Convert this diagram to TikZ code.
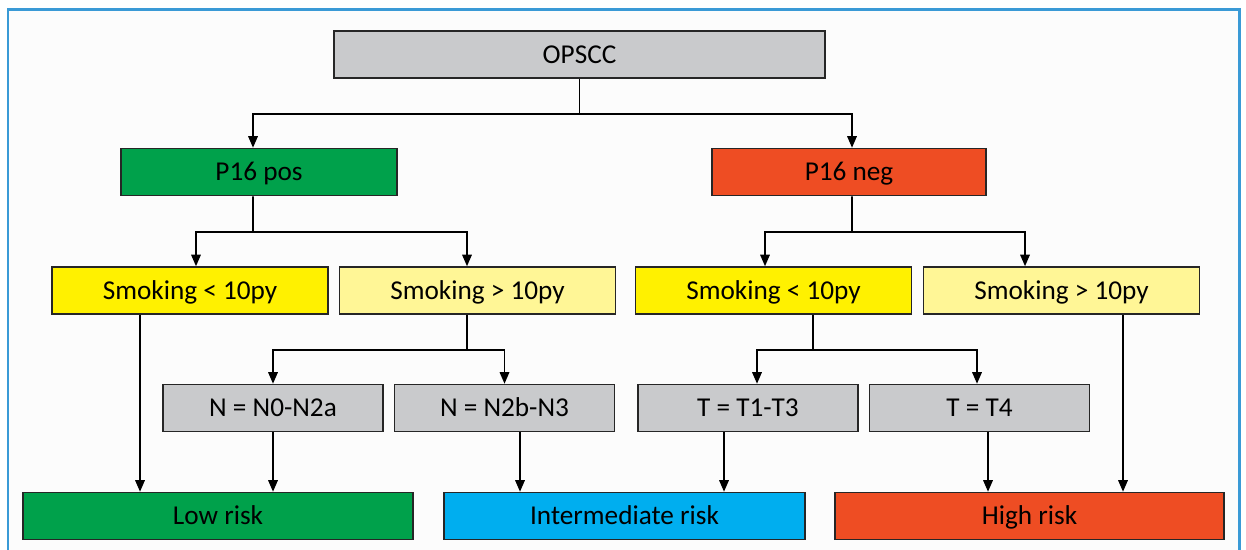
\documentclass[tikz,border=0pt]{standalone}
\usepackage{fontspec}
\setmainfont{Carlito}
\usepackage{tikz}
\usetikzlibrary{arrows.meta}

\definecolor{framblue}{RGB}{58,154,214}
\definecolor{boxgray}{RGB}{201,202,204}
\definecolor{posgreen}{RGB}{0,161,75}
\definecolor{negred}{RGB}{238,77,35}
\definecolor{smklow}{RGB}{255,241,0}
\definecolor{smkhigh}{RGB}{255,246,150}
\definecolor{midblue}{RGB}{0,174,239}

\begin{document}
\begin{tikzpicture}[x=0.02cm, y=-0.02cm, ->, >={Triangle[length=2.3mm,width=1.9mm]},
				   line width=0.9pt,
				   box/.style={draw=black!85, line width=0.9pt, minimum height=0.94cm,
				               inner sep=0pt, text height=11pt, text depth=1pt,
				               font=\fontsize{15.5}{18}\selectfont},
				   wide/.style={minimum width=5.52cm},
				   narrow/.style={minimum width=4.4cm}]
\useasboundingbox (0,0) rectangle (1246,549);
\draw[-, framblue, line width=1.7pt, fill={rgb,255:red,252;green,252;blue,252}] (8,9) rectangle (1239,600);

\node[box, fill=boxgray, minimum width=9.82cm] (opscc) at (579.5,54.5) {OPSCC};
\node[box, fill=posgreen, wide] (pos) at (259,172) {P16 pos};
\node[box, fill=negred, minimum width=5.48cm] (neg) at (849,172) {P16 neg};

\node[box, fill=smklow, wide] (sl1) at (190,290.5) {Smoking < 10py};
\node[box, fill=smkhigh, wide] (sh1) at (477.5,290.5) {Smoking > 10py};
\node[box, fill=smklow, wide] (sl2) at (773.5,290.5) {Smoking < 10py};
\node[box, fill=smkhigh, wide] (sh2) at (1061.5,290.5) {Smoking > 10py};

\node[box, fill=boxgray, narrow] (n1) at (273,408) {N = N0-N2a};
\node[box, fill=boxgray, narrow] (n2) at (504.5,408) {N = N2b-N3};
\node[box, fill=boxgray, narrow] (t1) at (748,408) {T = T1-T3};
\node[box, fill=boxgray, narrow] (t2) at (979.5,408) {T = T4};

\node[box, fill=posgreen, minimum width=7.8cm] (low) at (218,516) {Low risk};
\node[box, fill=midblue, minimum width=7.22cm] (mid) at (624.5,516) {Intermediate risk};
\node[box, fill=negred, minimum width=7.78cm] (high) at (1029.5,516) {High risk};

\coordinate (j1) at (579.5,114);
\coordinate (j2) at (253,232);
\coordinate (j3) at (852,232);
\coordinate (j4) at (467,350);
\coordinate (j5) at (813,350);

\draw[-] (opscc.south) -- (j1);
\draw (j1) -| ([xshift=-0.12cm]pos.north);
\draw (j1) -| ([xshift=0.06cm]neg.north);

\draw[-] ([xshift=-0.12cm]pos.south) -- (j2);
\draw (j2) -| ([xshift=0.12cm]sl1.north);
\draw (j2) -| ([xshift=-0.21cm]sh1.north);

\draw[-] ([xshift=0.06cm]neg.south) -- (j3);
\draw (j3) -| ([xshift=-0.17cm]sl2.north);
\draw (j3) -| ([xshift=-0.73cm]sh2.north);

\draw[-] ([xshift=-0.21cm]sh1.south) -- (j4);
\draw (j4) -| (n1.north);
\draw (j4) -| (n2.north);

\draw[-] ([xshift=0.79cm]sl2.south) -- (j5);
\draw (j5) -| ([xshift=0.18cm]t1.north);
\draw (j5) -| ([xshift=-0.05cm]t2.north);

\draw ([xshift=-1cm]sl1.south) -- ([xshift=-1cm]sl1.south |- low.north);
\draw (n1.south) -- (n1.south |- low.north);
\draw ([xshift=0.31cm]n2.south) -- ([xshift=0.31cm]n2.south |- mid.north);
\draw ([xshift=-0.48cm]t1.south) -- ([xshift=-0.48cm]t1.south |- mid.north);
\draw ([xshift=0.17cm]t2.south) -- ([xshift=0.17cm]t2.south |- high.north);
\draw ([xshift=1.23cm]sh2.south) -- ([xshift=1.23cm]sh2.south |- high.north);
\end{tikzpicture}
\end{document}
